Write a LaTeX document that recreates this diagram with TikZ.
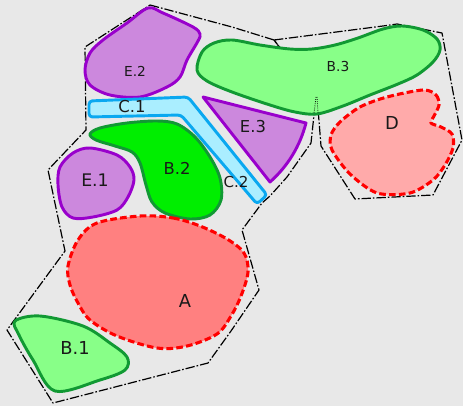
\documentclass[tikz,border=0pt]{standalone}
\usepackage{fontspec}
\setmainfont{DejaVu Sans}
\definecolor{bgc}{HTML}{E8E8E8}
\definecolor{violB}{HTML}{9900CC}
\definecolor{violF}{HTML}{CC88DD}
\definecolor{grnB}{HTML}{119933}
\definecolor{grnF}{HTML}{88FF88}
\definecolor{grnS}{HTML}{00EE00}
\definecolor{cyB}{HTML}{0AA8F0}
\definecolor{cyF}{HTML}{AAEEFF}
\definecolor{redB}{HTML}{FF0000}
\definecolor{redA}{HTML}{FF8080}
\definecolor{redD}{HTML}{FFAAAA}
\begin{document}
\begin{tikzpicture}[x=0.75pt,y=-0.75pt,line join=round,
  outline/.style={draw=black,line width=0.9pt,dash pattern=on 7pt off 1.5pt on 1.2pt off 1.5pt},
  purpblob/.style={draw=violB,fill=violF,line width=2.2pt},
  lgreenblob/.style={draw=grnB,fill=grnF,line width=2.2pt},
  sgreenblob/.style={draw=grnB,fill=grnS,line width=2.2pt},
  redblob/.style={draw=redB,line width=2.3pt,dash pattern=on 5pt off 2.4pt},
  bandshape/.style={draw=cyB,fill=cyF,line width=2.2pt,rounded corners=2.5pt},
  lbl/.style={text=black!90,inner sep=0pt}]
\useasboundingbox (0,0) rectangle (463,406);
\fill[bgc] (0,0) rectangle (463,406);
% outlines
\draw[outline] (150,5) -- (232,27) -- (274,40) -- (316,96) -- (311,143) -- (287,177) -- (270,196) -- (262,203) -- (242,230) -- (259,290) -- (231,331) -- (208,363) -- (53,403) -- (7,330) -- (65,251) -- (48,170) -- (86,130) -- (85,47) -- cycle;
\draw[outline] (274,40) -- (383,26) -- (397,24) -- (442,33) -- (462,140) -- (433,195) -- (355,199) -- (321,146) -- (317,96) -- cycle;
% E.2
\draw[purpblob] plot[smooth cycle,tension=0.55] coordinates {(148,8) (163,13) (193,27) (200,34) (198,41) (187,60) (180,77) (167,87) (140,97) (110,95) (90,85) (85,70) (90,53) (103,40) (127,23)};
% B.3
\draw[lgreenblob] plot[smooth cycle,tension=0.55] coordinates {(197,70) (202,52) (214,43) (232,40) (260,45) (290,49) (312,49) (335,45) (358,38) (383,29) (402,26) (423,30) (437,39) (440,50) (433,62) (417,75) (398,84) (370,95) (343,106) (317,114) (295,112) (270,105) (232,92) (207,81)};
\draw[black,line width=0.6pt,densely dotted] (316,97) -- (314,113);
\draw[black,line width=0.6pt,densely dotted] (317,97) -- (318,113);
% C band
\draw[bandshape] (89,101) -- (188,97) -- (267,195) -- (257,204) -- (181,115) -- (89,117) -- cycle;
% E.3
\draw[purpblob] (203,97) -- (306,123) .. controls (300,146) and (288,166) .. (270,182) -- cycle;
% B.2
\draw[sgreenblob] plot[smooth cycle,tension=0.55] coordinates {(90,134) (100,128) (127,123) (157,121) (177,124) (195,137) (210,157) (220,178) (221,200) (210,215) (190,219) (165,213) (152,202) (146,185) (140,163) (132,152) (115,146) (96,140)};
% E.1
\draw[purpblob] plot[smooth cycle,tension=0.55] coordinates {(90,148) (117,155) (130,167) (134,180) (128,197) (117,210) (93,217) (73,218) (62,207) (58,185) (60,167) (73,153)};
% D
\draw[redblob,fill=redD] plot[smooth cycle,tension=0.5] coordinates {(423,90) (436,95) (439,105) (434,116) (431,123) (441,127) (452,134) (453,148) (445,165) (433,180) (410,193) (377,193) (350,174) (332,150) (331,135) (340,122) (360,107) (387,97)};
% A
\draw[redblob,fill=redA] plot[smooth cycle,tension=0.55] coordinates {(140,216) (173,218) (200,226) (227,239) (244,253) (248,272) (241,296) (231,316) (217,334) (187,346) (157,348) (117,336) (90,320) (78,303) (70,285) (68,266) (78,240) (97,223)};
% B.1
\draw[lgreenblob] plot[smooth cycle,tension=0.55] coordinates {(15,321) (40,316) (83,326) (110,343) (127,357) (125,370) (100,380) (55,391) (33,360) (19,335)};
% labels
\node[lbl,font=\fontsize{10.3}{12}\selectfont] (lE2) at (135,71) {E.2};
\node[lbl,font=\fontsize{10.3}{12}\selectfont] (lB3) at (338,67) {B.3};
\node[lbl,font=\fontsize{12.3}{14}\selectfont] (lC1) at (132,107) {C.1};
\node[lbl,font=\fontsize{12.3}{14}\selectfont] (lE3) at (253,127) {E.3};
\node[lbl,font=\fontsize{12.3}{14}\selectfont] (lB2) at (177,168) {B.2};
\node[lbl,font=\fontsize{11.3}{13}\selectfont] (lC2) at (236,182) {C.2};
\node[lbl,font=\fontsize{13}{15}\selectfont] (lE1) at (95,180) {E.1};
\node[lbl,font=\fontsize{13.4}{15}\selectfont] (lD) at (392,123) {D};
\node[lbl,font=\fontsize{13.4}{15}\selectfont] (lA) at (185,301) {A};
\node[lbl,font=\fontsize{13.4}{15}\selectfont] (lB1) at (75,348) {B.1};
\end{tikzpicture}
\end{document}
